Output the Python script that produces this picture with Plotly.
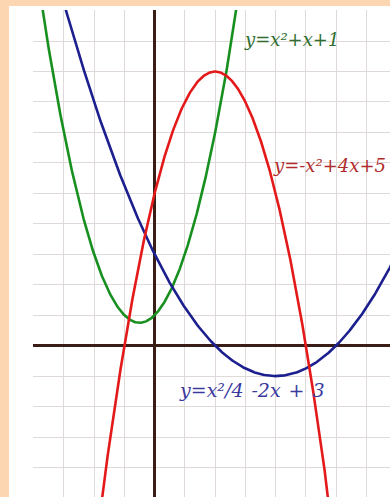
import numpy as np
import plotly.graph_objects as go

# Parabola coefficients (a, b, c) for y = a*x^2 + b*x + c
green_coef = [1.0, 1.0, 1.0]
red_coef = [-1.0, 4.0, 5.0]
blue_coef = [0.25, -2.0, 3.0]

green_label = "y=x²+x+1"
red_label = "y=-x²+4x+5"
blue_label = "y=x²/4 -2x + 3"

x_range = [-4.02, 7.78]
y_range = [-4.97, 11.02]

xs = np.linspace(-4.5, 8.5, 800)


def parabola(coef, x):
    a, b, c = coef
    return a * x ** 2 + b * x + c


fig = go.Figure()
fig.add_trace(go.Scatter(x=xs, y=parabola(green_coef, xs), mode="lines",
                         line=dict(color="#17901f", width=2.6), hoverinfo="skip"))
fig.add_trace(go.Scatter(x=xs, y=parabola(blue_coef, xs), mode="lines",
                         line=dict(color="#1c1f8e", width=2.6), hoverinfo="skip"))
fig.add_trace(go.Scatter(x=xs, y=parabola(red_coef, xs), mode="lines",
                         line=dict(color="#e3191a", width=2.6), hoverinfo="skip"))

label_font = dict(family="DejaVu Serif", size=18, style="italic")
fig.add_annotation(x=2.88, y=10.05, text=green_label, showarrow=False,
                   xanchor="left", yanchor="middle",
                   font=dict(label_font, color="#2f6e2f"))
fig.add_annotation(x=3.83, y=5.92, text=red_label, showarrow=False,
                   xanchor="left", yanchor="middle",
                   font=dict(label_font, color="#b02c2c"))
fig.add_annotation(x=0.74, y=-1.45, text=blue_label.replace(" ", " \u200a"),
                   showarrow=False, xanchor="left", yanchor="middle",
                   font=dict(label_font, size=19, color="#3a3a9e"))

# white sheet on the peach page
fig.add_shape(type="rect", xref="paper", yref="paper",
              x0=-24 / 357, x1=1.05, y0=-0.05, y1=1 + 4 / 487,
              fillcolor="white", line=dict(width=0), layer="below")

axis_common = dict(dtick=1, showticklabels=False, ticks="",
                   showgrid=True, gridcolor="#e0d9d9", gridwidth=1.4,
                   zeroline=True, zerolinecolor="#3b1d18", zerolinewidth=2.6,
                   showline=False, fixedrange=True)
fig.update_xaxes(range=x_range, tick0=0, **axis_common)
fig.update_yaxes(range=y_range, tick0=0, **axis_common)

fig.update_layout(width=390, height=497,
                  margin=dict(l=33, r=0, t=10, b=0),
                  paper_bgcolor="#fcd5b1", plot_bgcolor="white",
                  showlegend=False)

fig.write_html("out.html", config={"displayModeBar": False})
